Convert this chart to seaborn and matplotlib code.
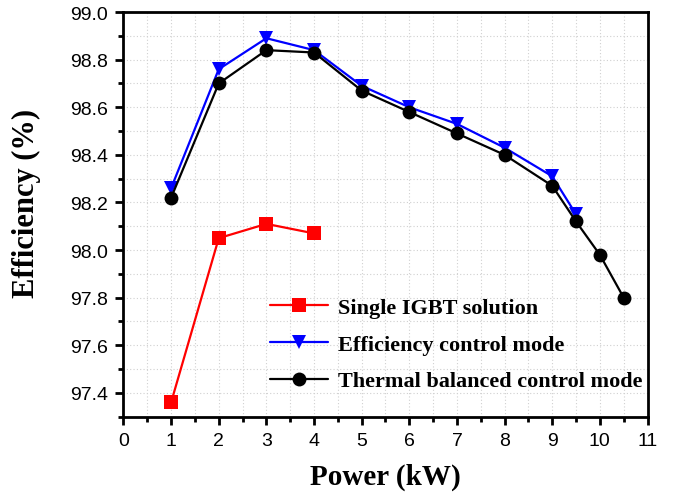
import matplotlib
matplotlib.use("Agg")
import matplotlib.pyplot as plt
import seaborn as sns
import pandas as pd
from matplotlib.ticker import MultipleLocator

# Data
single_x = [1, 2, 3, 4]
single_y = [97.36, 98.05, 98.11, 98.07]
eff_x = [1, 2, 3, 4, 5, 6, 7, 8, 9, 9.5]
eff_y = [98.26, 98.76, 98.89, 98.84, 98.69, 98.60, 98.53, 98.43, 98.31, 98.15]
therm_x = [1, 2, 3, 4, 5, 6, 7, 8, 9, 9.5, 10, 10.5]
therm_y = [98.22, 98.70, 98.84, 98.83, 98.67, 98.58, 98.49, 98.40, 98.27, 98.12, 97.98, 97.80]
labels = ["Single IGBT solution", "Efficiency control mode", "Thermal balanced control mode"]
x_ticks = list(range(0, 12))
y_ticks = [97.4, 97.6, 97.8, 98.0, 98.2, 98.4, 98.6, 98.8, 99.0]

sns.set_style("ticks")
plt.rcParams['font.family'] = ['Liberation Sans', 'DejaVu Sans']
plt.rcParams['text.color'] = 'black'
plt.rcParams['axes.labelcolor'] = 'black'
plt.rcParams['xtick.color'] = 'black'
plt.rcParams['ytick.color'] = 'black'

fig = plt.figure(figsize=(6.74, 5.02), dpi=100)
ax = fig.add_axes([0.1832, 0.168, 0.9607 - 0.1832, 0.974 - 0.168])

series = [
    (single_x, single_y, labels[0], "#ff0000", "s"),
    (eff_x, eff_y, labels[1], "#0000ff", "v"),
    (therm_x, therm_y, labels[2], "#000000", "o"),
]
for xs, ys, lab, col, mk in series:
    df = pd.DataFrame({"x": xs, "y": ys})
    sns.lineplot(data=df, x="x", y="y", ax=ax, color=col, marker=mk,
                 markersize=10, markeredgewidth=0, linewidth=1.6, label=lab)

ax.set_xlim(0, 11)
ax.set_ylim(97.3, 99.0)
ax.set_xticks(x_ticks)
ax.set_yticks(y_ticks)
ax.set_yticklabels([f"{v:.1f}" for v in y_ticks])
ax.xaxis.set_minor_locator(MultipleLocator(0.5))
ax.yaxis.set_minor_locator(MultipleLocator(0.1))
ax.grid(True, which="both", linestyle=(0, (1, 2)), color="#d0d0d0", linewidth=0.8)
ax.set_axisbelow(True)

for s in ax.spines.values():
    s.set_linewidth(2)
    s.set_color("black")
ax.tick_params(which="major", direction="out", length=6, width=2, labelsize=14, pad=5,
               top=False, right=False)
ax.tick_params(which="minor", direction="out", length=3.5, width=2, top=False, right=False)

ax.set_xlabel("Power (kW)", fontfamily="Liberation Serif", fontweight="bold", fontsize=21, labelpad=10)
ax.set_ylabel("Efficiency (%)", fontfamily="Liberation Serif", fontweight="bold", fontsize=22)
ax.yaxis.set_label_coords(-0.157, 0.53)

leg = ax.legend(loc="lower right", bbox_to_anchor=(1.028, 0.013), frameon=False,
                prop={"family": "Liberation Serif", "weight": "bold", "size": 16},
                handlelength=2.6, labelspacing=0.73, handletextpad=0.45)

fig.savefig("out.png", dpi=100)
